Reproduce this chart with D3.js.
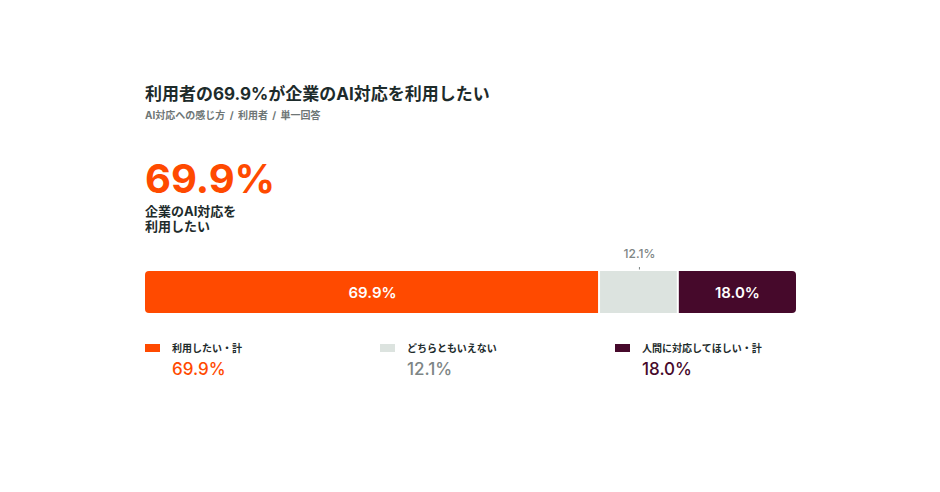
<!DOCTYPE html>
<html lang="ja">
<head>
  <meta charset="UTF-8">
  <title>利用者の69.9%が企業のAI対応を利用したい</title>
  <script src="https://d3js.org/d3.v7.min.js"></script>
  <style>
    body { background: #fff; margin: 0; }
    svg { display: block; }
    text { font-family: Inter, "Noto Sans CJK JP", sans-serif; }
    .title { font-size: 17px; font-weight: 700; fill: #1d2b2b; }
    .subtitle { font-size: 10px; font-weight: 700; fill: #6e7676; word-spacing: 2px; }
    .big { font-size: 40px; font-weight: 700; fill: #ff4a00; }
    .bigsub { font-size: 13px; font-weight: 700; fill: #1d2b2b; }
    .seg-label { font-size: 15px; font-weight: 600; fill: #fff; }
    .out-label { font-size: 12px; font-weight: 500; fill: #7d8585; }
    .leg-label { font-size: 10px; font-weight: 700; fill: #1d2b2b; }
    .leg-value { font-size: 17px; font-weight: 500; }
  </style>
</head>
<body>
  <svg width="940" height="492"></svg>

  <script>
const categories = ["利用したい・計", "どちらともいえない", "人間に対応してほしい・計"];
const values = [69.9, 12.1, 18.0];
const colors = ["#ff4a00", "#dce3df", "#46092b"];
const valueColors = ["#ff4a00", "#7d8585", "#46092b"];

const svg = d3.select("svg");
const barX0 = 145, barX1 = 796;
const barY = 271, barH = 42;
const gap = 2;

// title block
svg.append("text").attr("class", "title").attr("x", 145).attr("y", 100)
  .text("利用者の69.9%が企業のAI対応を利用したい");
svg.append("text").attr("class", "subtitle").attr("x", 145).attr("y", 119)
  .text("AI対応への感じ方 / 利用者 / 単一回答");

// headline number
svg.append("text").attr("class", "big").attr("x", 145).attr("y", 193)
  .text(d3.format(".1f")(values[0]) + "%");
svg.append("text").attr("class", "bigsub").attr("x", 145).attr("y", 216).text("企業のAI対応を");
svg.append("text").attr("class", "bigsub").attr("x", 145).attr("y", 231).text("利用したい");

// stacked bar
const x = d3.scaleLinear().domain([0, d3.sum(values)]).range([barX0, barX1]);
let acc = 0;
const segs = values.map((v, i) => {
  const s = { i, v, start: acc, end: acc + v };
  acc += v;
  return s;
});

const clip = svg.append("defs").append("clipPath").attr("id", "barclip");
clip.append("rect").attr("x", barX0).attr("y", barY)
  .attr("width", barX1 - barX0).attr("height", barH).attr("rx", 4);

svg.append("g").attr("clip-path", "url(#barclip)")
  .selectAll("rect").data(segs).join("rect")
  .attr("x", d => x(d.start))
  .attr("y", barY)
  .attr("width", d => x(d.end) - x(d.start) - (d.i < segs.length - 1 ? gap : 0))
  .attr("height", barH)
  .attr("fill", d => colors[d.i]);

// inside labels for wide segments, outside label for the narrow one
segs.forEach(d => {
  const cx = (x(d.start) + x(d.end)) / 2;
  const label = d3.format(".1f")(d.v) + "%";
  if (d.i === 1) {
    svg.append("text").attr("class", "out-label").attr("x", cx).attr("y", 258)
      .attr("text-anchor", "middle").text(label);
    svg.append("line").attr("x1", cx).attr("x2", cx).attr("y1", 267).attr("y2", 269.5)
      .attr("stroke", "#7d8585").attr("stroke-width", 1);
  } else {
    svg.append("text").attr("class", "seg-label").attr("x", cx).attr("y", barY + barH / 2 + 5.5)
      .attr("text-anchor", "middle").text(label);
  }
});

// legend
const legX = [145, 380, 615];
const leg = svg.selectAll(".leg").data(categories).join("g")
  .attr("class", "leg")
  .attr("transform", (d, i) => `translate(${legX[i]},344)`);

leg.append("rect").attr("width", 15).attr("height", 8).attr("fill", (d, i) => colors[i]);
leg.append("text").attr("class", "leg-label").attr("x", 27).attr("y", 8).text(d => d);
leg.append("text").attr("class", "leg-value").attr("x", 27).attr("y", 31)
  .attr("fill", (d, i) => valueColors[i])
  .text((d, i) => d3.format(".1f")(values[i]) + "%");
  </script>
</body>
</html>
